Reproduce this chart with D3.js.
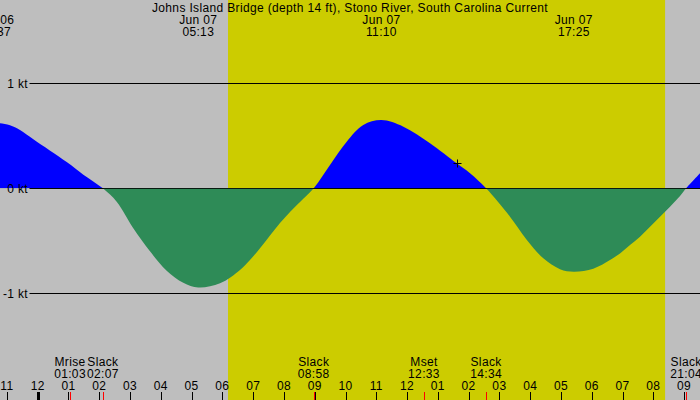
<!DOCTYPE html>
<html>
<head>
<meta charset="utf-8">
<script src="https://cdn.jsdelivr.net/npm/d3@7/dist/d3.min.js"></script>
<style>
  html, body { margin: 0; padding: 0; background: #bebebe; }
  svg { display: block; }
  text { font-family: "Liberation Sans", Arial, sans-serif; font-size: 12px; letter-spacing: 0.35px; fill: #000; }
</style>
</head>
<body>
<svg id="chart" width="700" height="400"></svg>
<script>
// ---- DATA (hours relative to 00:00 Jun 07) ----
const title = "Johns Island Bridge (depth 14 ft), Stono River, South Carolina Current";

// current curve samples: time (h), speed (kt)
const curveHours = [-1.383, -1.225, -0.900, -0.575, -0.142, 0.942, 1.483, 2.117, 2.566, 3.106, 3.648, 4.190, 4.730, 5.217, 5.923, 6.572, 6.897, 7.222, 7.547, 7.872, 8.197, 8.522, 8.967, 9.496, 10.039, 10.578, 11.167, 11.882, 12.745, 13.613, 14.045, 14.567, 15.344, 15.886, 16.426, 16.968, 17.417, 18.050, 18.593, 18.918, 19.243, 19.568, 19.893, 20.218, 20.543, 20.868, 21.067, 21.517];
const curveKnots = [0.625, 0.62, 0.60, 0.555, 0.467, 0.25, 0.13, 0, -0.128, -0.38, -0.60, -0.785, -0.90, -0.945, -0.905, -0.778, -0.683, -0.571, -0.45, -0.33, -0.225, -0.13, 0, 0.222, 0.444, 0.603, 0.65, 0.587, 0.43, 0.238, 0.143, 0, -0.27, -0.49, -0.667, -0.77, -0.794, -0.765, -0.683, -0.62, -0.54, -0.461, -0.366, -0.27, -0.175, -0.073, 0, 0.143];

// level lines
const levelValues = [1, 0, -1];
const levelLabels = ["1 kt", "0 kt", "-1 kt"];

// daylight window (sunrise, sunset)
const daylight = [6.183, 20.383];

// max / min events labelled at top
const peakHours = [-1.383, 5.217, 11.167, 17.417];
const peakDates = ["Jun 06", "Jun 07", "Jun 07", "Jun 07"];
const peakTimes = ["22:37", "05:13", "11:10", "17:25"];

// events labelled at the bottom
const eventHours = [1.05, 2.117, 8.967, 12.55, 14.567, 21.067];
const eventNames = ["Mrise", "Slack", "Slack", "Mset", "Slack", "Slack"];
const eventTimes = ["01:03", "02:07", "08:58", "12:33", "14:34", "21:04"];

// hour ticks
const hourTicks = d3.range(-1, 22);
const hourLabels = hourTicks.map(h => { let k = ((h % 12) + 12) % 12; if (k === 0) k = 12; return String(k).padStart(2, "0"); });

// "+" marker
const markHour = 13.613;
const markValue = 0.238;

// ---- DRAW ----
const W = 700, H = 400;
const svg = d3.select("#chart");
const x = d3.scaleLinear().domain([-1.2248, 21.517]).range([0, W]);
const y = d3.scaleLinear().domain([-1, 1]).range([293.3, 83.3]);

svg.append("rect").attr("width", W).attr("height", H).attr("fill", "#bebebe");
svg.append("rect").attr("x", x(daylight[0])).attr("y", 0)
  .attr("width", x(daylight[1]) - x(daylight[0])).attr("height", H).attr("fill", "#cccc00");

const pts = curveHours.map((h, i) => [h, curveKnots[i]]);
const area = d3.area().x(d => x(d[0])).y0(y(0)).y1(d => y(d[1])).curve(d3.curveCatmullRom.alpha(0.5));

const defs = svg.append("defs");
defs.append("clipPath").attr("id", "pos").append("rect").attr("x", 0).attr("y", 0).attr("width", W).attr("height", y(0));
defs.append("clipPath").attr("id", "neg").append("rect").attr("x", 0).attr("y", y(0) + 0.5).attr("width", W).attr("height", H);

svg.append("path").datum(pts).attr("d", area).attr("fill", "#0000ff").attr("clip-path", "url(#pos)");

// level lines + labels
levelValues.forEach((v, i) => {
  svg.append("line").attr("x1", 29.5).attr("x2", W).attr("y1", Math.round(y(v)) + 0.5).attr("y2", Math.round(y(v)) + 0.5)
    .attr("stroke", "#000").attr("stroke-width", 1);
  svg.append("text").attr("x", 28).attr("y", y(v)).attr("dy", "0.35em").attr("text-anchor", "end").text(levelLabels[i]);
});

svg.append("path").datum(pts).attr("d", area).attr("fill", "#2e8b57").attr("clip-path", "url(#neg)");

// marker
const mx = Math.round(x(markHour)) + 0.5, my = Math.round(y(markValue)) + 0.5;
svg.append("path").attr("d", `M${mx - 4},${my}H${mx + 4}M${mx},${my - 4}V${my + 4}`).attr("stroke", "#000").attr("stroke-width", 1);

// title & peaks
svg.append("text").attr("x", 350).attr("y", 8).attr("dy", "0.35em").attr("text-anchor", "middle").text(title);
peakHours.forEach((h, i) => {
  svg.append("text").attr("x", x(h)).attr("y", 20).attr("dy", "0.35em").attr("text-anchor", "middle").text(peakDates[i]);
  svg.append("text").attr("x", x(h)).attr("y", 32).attr("dy", "0.35em").attr("text-anchor", "middle").text(peakTimes[i]);
});

// hour ticks
hourTicks.forEach((h, i) => {
  const px = Math.round(x(h)) + 0.5;
  svg.append("line").attr("x1", px).attr("x2", px).attr("y1", 392).attr("y2", H)
    .attr("stroke", "#000").attr("stroke-width", h === 0 ? 3 : 1);
  svg.append("text").attr("x", x(h)).attr("y", 385.5).attr("dy", "0.35em").attr("text-anchor", "middle").text(hourLabels[i]);
});

// events
eventHours.forEach((h, i) => {
  const px = Math.round(x(h)) + 0.5;
  svg.append("line").attr("x1", px).attr("x2", px).attr("y1", 392).attr("y2", H).attr("stroke", "#ff0000").attr("stroke-width", 1);
  svg.append("text").attr("x", x(h)).attr("y", 361.5).attr("dy", "0.35em").attr("text-anchor", "middle").text(eventNames[i]);
  svg.append("text").attr("x", x(h)).attr("y", 373.5).attr("dy", "0.35em").attr("text-anchor", "middle").text(eventTimes[i]);
});
</script>
</body>
</html>
